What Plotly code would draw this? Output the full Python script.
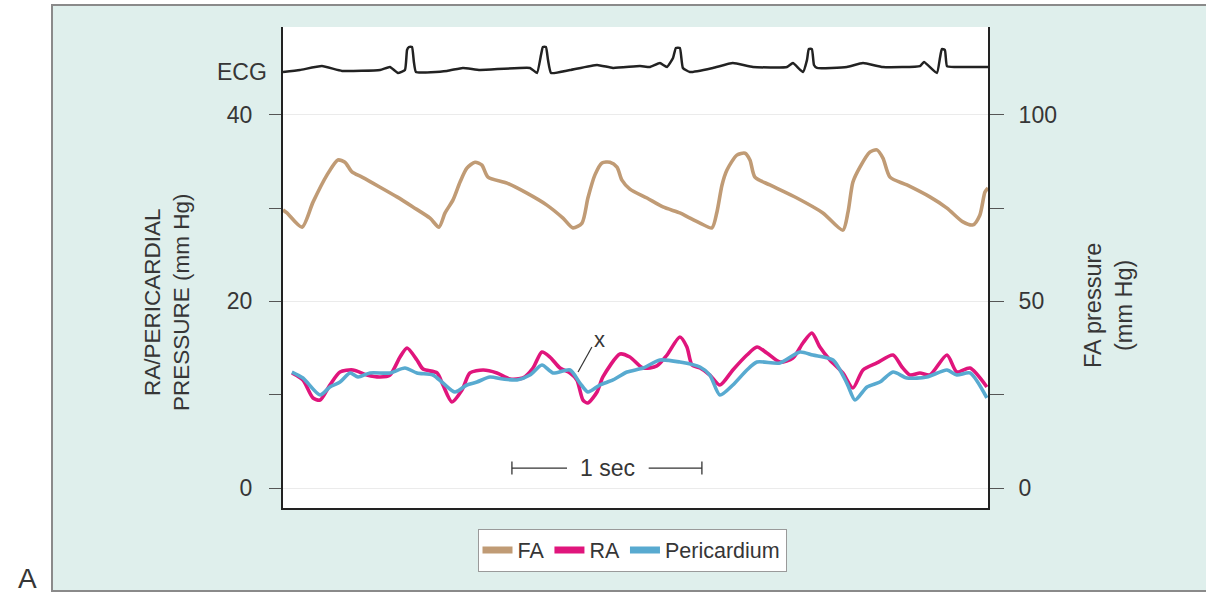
import plotly.graph_objects as go

# ---------------- data (time in seconds) ----------------
fa_t = [0.000, 0.021, 0.100, 0.158, 0.232, 0.289, 0.326, 0.363, 0.416, 0.511, 0.600, 0.684, 0.774,
        0.821, 0.853, 0.895, 0.932, 0.968, 1.011, 1.047, 1.079, 1.179, 1.284, 1.389, 1.474, 1.526,
        1.574, 1.605, 1.642, 1.679, 1.721, 1.758, 1.784, 1.826, 1.916, 2.000, 2.089, 2.132, 2.195,
        2.258, 2.284, 2.311, 2.337, 2.389, 2.432, 2.458, 2.484, 2.563, 2.705, 2.842, 2.947, 2.974,
        3.000, 3.037, 3.089, 3.126, 3.158, 3.195, 3.284, 3.405, 3.495, 3.579, 3.632, 3.668, 3.695, 3.711]
fa_mmhg = [74.5, 73.7, 69.9, 76.6, 83.9, 87.9, 87.3, 84.7, 83.3, 80.6, 78.0, 75.3, 72.3,
           69.9, 73.7, 77.2, 82.0, 85.7, 87.3, 86.5, 83.3, 81.7, 79.0, 75.8, 72.3, 69.7,
           71.0, 77.7, 83.9, 87.1, 87.3, 86.0, 82.5, 80.1, 77.7, 75.3, 73.7, 72.6, 71.0,
           69.7, 73.9, 81.2, 85.2, 89.2, 89.7, 87.9, 83.3, 81.2, 77.7, 73.7, 69.1, 73.9,
           82.0, 86.0, 90.0, 90.6, 88.4, 83.3, 81.2, 78.0, 75.0, 71.3, 70.5, 73.1, 79.3, 80.4]

ra_t = [0.047, 0.105, 0.158, 0.195, 0.247, 0.300, 0.368, 0.442, 0.511, 0.563, 0.616, 0.653, 0.705,
        0.737, 0.811, 0.842, 0.889, 0.942, 0.984, 1.053, 1.126, 1.195, 1.263, 1.316, 1.363, 1.405,
        1.458, 1.511, 1.547, 1.579, 1.605, 1.653, 1.684, 1.774, 1.826, 1.895, 1.968, 2.021, 2.089,
        2.126, 2.153, 2.195, 2.247, 2.300, 2.368, 2.442, 2.495, 2.547, 2.616, 2.684, 2.737, 2.784,
        2.826, 2.879, 2.947, 3.000, 3.053, 3.126, 3.211, 3.258, 3.300, 3.353, 3.405, 3.495, 3.547,
        3.616, 3.705]
ra_mmhg = [12.33, 11.58, 9.65, 9.43, 11.04, 12.43, 12.65, 12.11, 11.90, 12.11, 14.04, 15.01, 13.72,
           12.75, 12.33, 11.04, 9.22, 10.50, 12.33, 12.65, 12.33, 11.68, 11.79, 12.86, 14.58, 14.04,
           12.86, 12.33, 11.58, 9.43, 9.11, 10.29, 11.90, 14.36, 14.04, 12.86, 13.08, 14.25, 16.18,
           15.11, 13.18, 12.86, 12.11, 11.04, 12.65, 14.25, 15.11, 14.47, 13.50, 13.93, 15.54, 16.61,
           15.11, 13.72, 12.33, 10.72, 12.65, 13.40, 14.25, 12.97, 12.11, 12.33, 12.11, 14.25, 12.43,
           12.86, 10.83]

peri_t = [0.047, 0.105, 0.195, 0.247, 0.300, 0.353, 0.395, 0.458, 0.563, 0.642, 0.705, 0.789, 0.842,
          0.905, 0.968, 1.021, 1.089, 1.158, 1.232, 1.300, 1.363, 1.421, 1.511, 1.563, 1.605, 1.668,
          1.737, 1.811, 1.895, 1.984, 2.089, 2.195, 2.247, 2.300, 2.368, 2.442, 2.495, 2.616, 2.721,
          2.789, 2.895, 2.968, 3.011, 3.074, 3.142, 3.211, 3.284, 3.389, 3.495, 3.547, 3.616, 3.705]
peri_mmhg = [12.43, 11.79, 9.97, 10.83, 11.36, 12.33, 11.90, 12.33, 12.33, 12.86, 12.33, 12.11, 11.25,
             10.29, 11.04, 11.36, 11.90, 11.68, 11.58, 12.11, 13.18, 12.33, 12.65, 11.25, 10.29, 11.04,
             11.58, 12.43, 12.86, 13.72, 13.50, 12.97, 12.11, 9.97, 11.04, 12.65, 13.50, 13.40, 14.58,
             14.25, 13.72, 11.25, 9.43, 10.83, 11.36, 12.43, 11.79, 11.90, 12.65, 12.11, 12.33, 9.65]

ecg_t = [0.000, 0.089, 0.205, 0.311, 0.511, 0.563, 0.605, 0.642, 0.653, 0.663, 0.679, 0.689, 0.700,
         0.863, 0.947, 1.037, 1.300, 1.337, 1.358, 1.368, 1.384, 1.395, 1.411, 1.511, 1.653, 1.737,
         1.879, 1.932, 1.984, 2.021, 2.053, 2.068, 2.089, 2.105, 2.142, 2.263, 2.368, 2.474, 2.653,
         2.684, 2.737, 2.758, 2.768, 2.784, 2.795, 2.811, 2.968, 3.053, 3.158, 3.353, 3.374, 3.442,
         3.458, 3.468, 3.484, 3.495, 3.537, 3.711]
ecg_mv = [-0.09, 0.00, 0.17, -0.04, 0.00, 0.13, -0.13, 0.00, 0.87, 1.00, 1.00, 0.35, -0.09,
          -0.04, 0.09, 0.00, 0.09, -0.13, 0.65, 1.00, 1.00, 0.43, -0.13, 0.00, 0.22, 0.09,
          0.17, 0.13, 0.30, 0.13, 0.52, 0.96, 0.96, 0.09, -0.09, 0.09, 0.30, 0.13, 0.13,
          0.30, -0.09, 0.43, 0.91, 0.91, 0.22, 0.09, 0.13, 0.30, 0.13, 0.17, 0.35, -0.13,
          0.52, 0.91, 0.87, 0.17, 0.13, 0.13]

left_ticks = [0, 20, 40]
left_labels = ["0", "20", "40"]
left_minor = [10, 30]
right_ticks = [0, 50, 100]
right_labels = ["0", "50", "100"]
right_minor = [25, 75]

x_point = [1.553, 12.43]      # point marked "x" on the pericardial trace
x_label = [1.626, 15.11]
scale_start = 1.205           # 1-second calibration bar
scale_len = 1.0
scale_level = 2.14

# ---------------- figure ----------------
FONT = "Liberation Sans, Arial, sans-serif"
TXT = "#363636"
FA_C = "#c09b75"
RA_C = "#e0157c"
PE_C = "#58aad0"
SERIES = [("FA", FA_C), ("RA", RA_C), ("Pericardium", PE_C)]

fig = go.Figure()
fig.add_trace(go.Scatter(x=fa_t, y=fa_mmhg, yaxis="y2", name="FA", mode="lines", showlegend=False,
                         legendgroup="FA",
                         line=dict(color=FA_C, width=3.6, shape="spline", smoothing=0.7)))
fig.add_trace(go.Scatter(x=ra_t, y=ra_mmhg, yaxis="y", name="RA", mode="lines", showlegend=False,
                         legendgroup="RA",
                         line=dict(color=RA_C, width=3.6, shape="spline", smoothing=0.7)))
fig.add_trace(go.Scatter(x=peri_t, y=peri_mmhg, yaxis="y", name="Pericardium", mode="lines",
                         showlegend=False, legendgroup="Pericardium",
                         line=dict(color=PE_C, width=3.6, shape="spline", smoothing=0.7)))
fig.add_trace(go.Scatter(x=ecg_t, y=ecg_mv, yaxis="y3", name="ECG", mode="lines", showlegend=False,
                         line=dict(color="#222222", width=2.5, shape="spline", smoothing=0.4)))
# legend entries (thicker swatches, as in the original key)
for name, col in SERIES:
    fig.add_trace(go.Scatter(x=[None], y=[None], name=name, mode="lines", legendgroup=name,
                             line=dict(color=col, width=7)))

# plot area in pixels: x 283..988, y 27..508
L, R, T, B = 283, 1206 - 988, 27, 593 - 508
W, H = 1206, 593
pw, ph = W - L - R, H - T - B


def px(x):
    return (x - L) / pw


def py(y):
    return (H - B - y) / ph


bar_col = "#333333"
shapes = [
    dict(type="rect", xref="paper", yref="paper", x0=px(52), x1=px(1215), y0=py(591), y1=py(5),
         fillcolor="#dfefec", line=dict(color="#8a8a8a", width=2), layer="below"),
    dict(type="rect", xref="paper", yref="paper", x0=0, x1=1, y0=0, y1=1,
         fillcolor="white", line=dict(width=0), layer="below"),
    # line to the "x" point
    dict(type="line", xref="x", yref="y", x0=x_point[0], y0=x_point[1], x1=x_label[0], y1=x_label[1],
         line=dict(color=bar_col, width=1.2)),
    # 1 sec bar (two segments around the label)
    dict(type="line", xref="x", yref="y", x0=scale_start, x1=scale_start + 0.29 * scale_len,
         y0=scale_level, y1=scale_level, line=dict(color=bar_col, width=1.3)),
    dict(type="line", xref="x", yref="y", x0=scale_start + 0.72 * scale_len, x1=scale_start + scale_len,
         y0=scale_level, y1=scale_level, line=dict(color=bar_col, width=1.3)),
    dict(type="line", xref="x", yref="y", x0=scale_start, x1=scale_start,
         y0=scale_level - 0.7, y1=scale_level + 0.7, line=dict(color=bar_col, width=1.3)),
    dict(type="line", xref="x", yref="y", x0=scale_start + scale_len, x1=scale_start + scale_len,
         y0=scale_level - 0.7, y1=scale_level + 0.7, line=dict(color=bar_col, width=1.3)),
]

annotations = [
    dict(text="ECG", xref="paper", yref="paper", x=px(269), y=py(72), xanchor="right",
         yanchor="middle", showarrow=False, font=dict(size=23, color=TXT, family=FONT)),
    dict(text="x", xref="x", yref="y", x=x_label[0] + 0.04, y=15.9, xanchor="center",
         yanchor="middle", showarrow=False, font=dict(size=22, color=TXT, family=FONT)),
    dict(text="1 sec", xref="x", yref="y", x=scale_start + 0.505 * scale_len, y=scale_level,
         xanchor="center", yanchor="middle", showarrow=False,
         font=dict(size=23, color=TXT, family=FONT)),
    dict(text="RA/PERICARDIAL<br>PRESSURE (mm Hg)", xref="paper", yref="paper", x=px(167), y=py(302),
         xanchor="center", yanchor="middle", textangle=-90, showarrow=False,
         font=dict(size=22.5, color=TXT, family=FONT)),
    dict(text="FA pressure<br>(mm Hg)", xref="paper", yref="paper", x=px(1108), y=py(306),
         xanchor="center", yanchor="middle", textangle=-90, showarrow=False,
         font=dict(size=23.5, color=TXT, family=FONT)),
    dict(text="A", xref="paper", yref="paper", x=px(28), y=py(578), xanchor="center",
         yanchor="middle", showarrow=False, font=dict(size=28, color=TXT, family=FONT)),
]

y_lo = (488 - 508) / 9.33
y_hi = (488 - 27) / 9.33
e_hi = (70 - 27) / 23.0
e_lo = (70 - 508) / 23.0

fig.update_layout(
    width=W, height=H, autosize=False,
    margin=dict(l=L, r=R, t=T, b=B, pad=0),
    paper_bgcolor="white", plot_bgcolor="white",
    font=dict(family=FONT, size=22, color=TXT),
    shapes=shapes, annotations=annotations,
    showlegend=True,
    legend=dict(orientation="h", x=px(632), y=py(550), xanchor="center", yanchor="middle",
                bgcolor="white", bordercolor="#9a9a9a", borderwidth=1,
                font=dict(size=21.5, color=TXT, family=FONT), tracegroupgap=0),
    xaxis=dict(range=[0, 3.711], showticklabels=False, ticks="", showgrid=False, zeroline=False,
               showline=True, linecolor="#222222", linewidth=2, fixedrange=True),
    yaxis=dict(range=[y_lo, y_hi], tickvals=left_ticks, ticktext=left_labels,
               ticks="outside", ticklen=12, tickwidth=1.3, tickcolor="#555555",
               ticklabelstandoff=12,
               minor=dict(tickvals=left_minor, ticks="outside", ticklen=12, tickwidth=1.3,
                          tickcolor="#555555", showgrid=False),
               showgrid=True, gridcolor="#ebebeb", gridwidth=1, zeroline=False,
               showline=True, linecolor="#222222", linewidth=2,
               tickfont=dict(size=23, color=TXT, family=FONT)),
    yaxis2=dict(range=[y_lo * 2.5, y_hi * 2.5], overlaying="y", side="right",
                tickvals=right_ticks, ticktext=right_labels,
                ticks="outside", ticklen=14, tickwidth=1.3, tickcolor="#555555",
                ticklabelstandoff=10,
                minor=dict(tickvals=right_minor, ticks="outside", ticklen=14, tickwidth=1.3,
                           tickcolor="#555555", showgrid=False),
                showgrid=False, zeroline=False,
                showline=True, linecolor="#222222", linewidth=2,
                tickfont=dict(size=23, color=TXT, family=FONT)),
    yaxis3=dict(range=[e_lo, e_hi], overlaying="y", visible=False, fixedrange=True),
)

fig.write_html("out.html")
